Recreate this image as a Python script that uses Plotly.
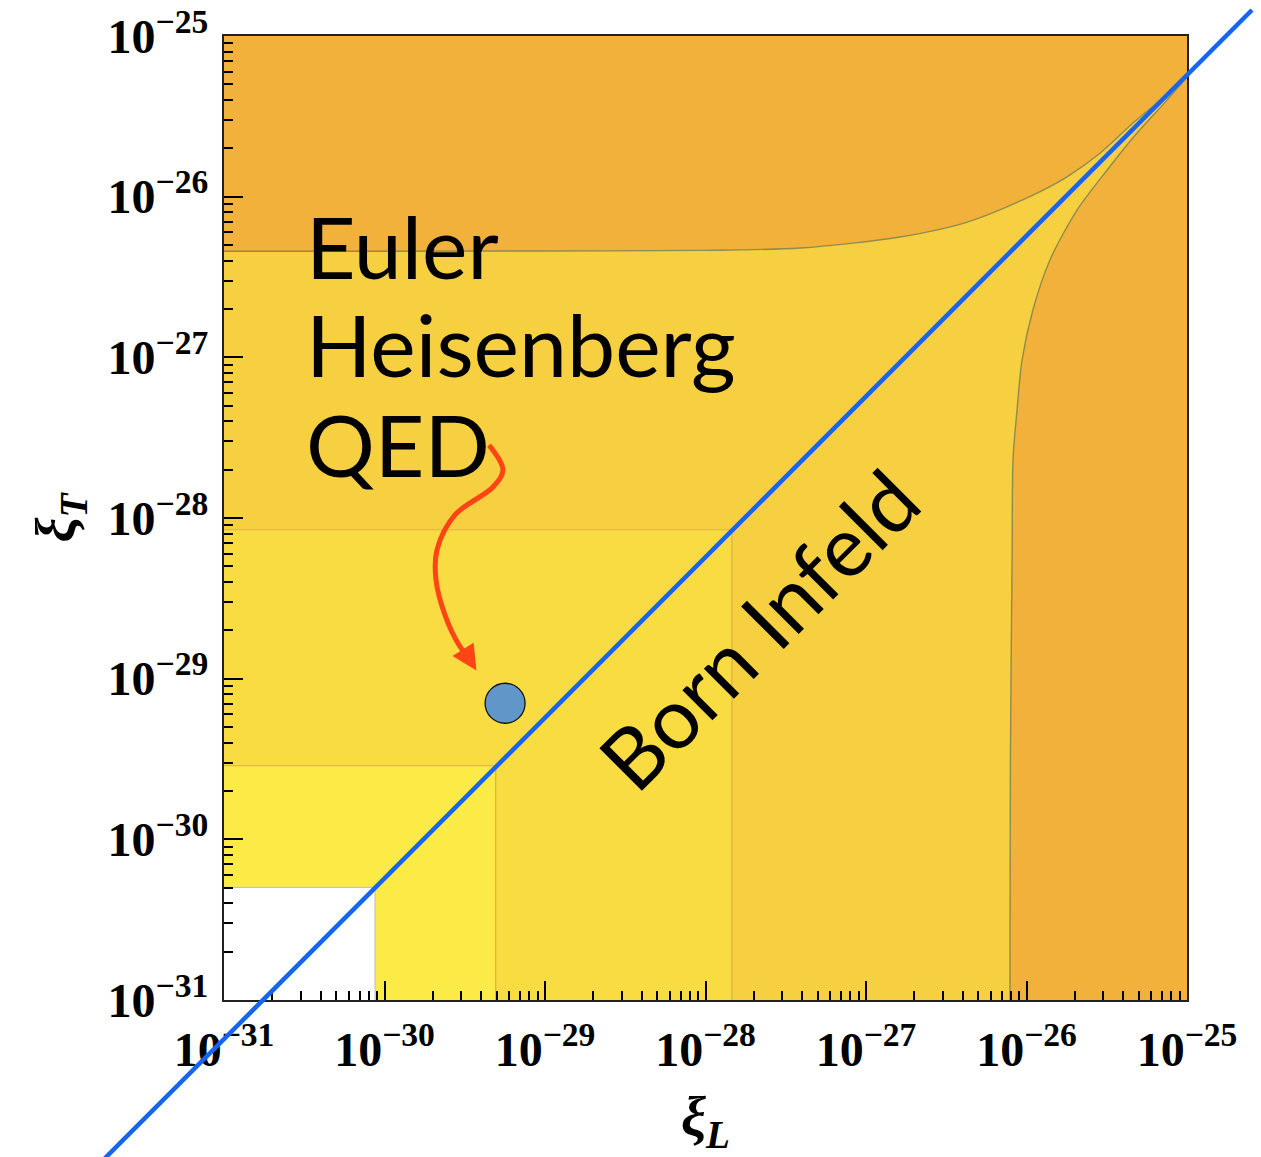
import numpy as np
import plotly.graph_objects as go

# ---------------- data ----------------
DECADES = [-31, -30, -29, -28, -27, -26, -25]
TICK_VALUES = [10.0 ** d for d in DECADES]
TICK_LABELS = [f"<b>10<sup>\u2212{abs(d)}</sup></b>" for d in DECADES]
MINOR_TICKS = [k * 10.0 ** d for d in DECADES[:-1] for k in range(2, 10)]

# nested rectangular bounds (xi_L max, xi_T max)
WHITE_BOX = (8.73e-31, 5.02e-31)
BRIGHT_BOX = (4.93e-30, 2.87e-30)
MID_BOX = (1.46e-28, 8.45e-29)

# curved outer bound: upper branch (left -> cusp)
UPPER_L = [1e-31, 1e-29, 9.33e-29, 3.89e-28, 1.622e-27, 4.27e-27, 1.096e-26,
           1.778e-26, 2.884e-26, 4.61e-26, 7.50e-26, 1e-25]
UPPER_T = [4.57e-27, 4.59e-27, 4.63e-27, 4.79e-27, 5.61e-27, 6.95e-27, 1.023e-26,
           1.324e-26, 1.871e-26, 2.871e-26, 4.30e-26, 5.56e-26]
# curved outer bound: right branch (bottom -> cusp)
RIGHT_L = [7.89e-27, 7.94e-27, 8.13e-27, 8.24e-27, 8.73e-27, 9.38e-27, 1.096e-26,
           1.40e-26, 2.065e-26, 3.18e-26, 4.88e-26, 7.50e-26, 1e-25]
RIGHT_T = [1e-31, 3.16e-30, 5.50e-29, 2.30e-28, 4.70e-28, 9.62e-28, 1.972e-27,
           4.04e-27, 8.26e-27, 1.466e-26, 2.49e-26, 3.99e-26, 5.56e-26]

# Born-Infeld relation xi_T = (4/7) xi_L
BI_RATIO = 4.0 / 7.0
BI_L = [1e-33, 2.54e-25]

# Euler-Heisenberg QED point
QED_L = [5.64e-30]
QED_T = [7.03e-30]

# pointer path (log10 xi_L, log10 xi_T)
ARROW_LOGL = [-29.349, -29.262, -29.324, -29.561, -29.673, -29.679, -29.623, -29.53, -29.49]
ARROW_LOGT = [-27.546, -27.701, -27.807, -27.981, -28.199, -28.386, -28.604, -28.80, -28.85]
ARROW_TIP = (-29.427, -28.949)

# ---------------- colours ----------------
ORANGE = "#F2B13B"
GOLD = "#F6D040"
YELLOW = "#F9DC42"
LEMON = "#FCEB46"
BLUE = "#1565F2"
RED = "#FF4515"

W, H = 1261, 1157
XD = [224 / W, 1187 / W]
YD = [1 - 1000 / H, 1 - 36 / H]
LO, HI = -31, -25
FAR = 1e-33


def outer_range(dom):
    span = (HI - LO) / (dom[1] - dom[0])
    return [LO - dom[0] * span, HI + (1 - dom[1]) * span]


fig = go.Figure()


def box(xmax, ymax, fill, edge):
    fig.add_trace(go.Scatter(
        x=[FAR, xmax, xmax, FAR, FAR], y=[FAR, FAR, ymax, ymax, FAR],
        mode="lines", fill="toself", fillcolor=fill,
        line=dict(color=edge, width=1.2), hoverinfo="skip", showlegend=False))


# excluded background
box(1e-24, 1e-24, ORANGE, ORANGE)

# allowed region bounded by the two curved branches
poly_x = [FAR, FAR] + UPPER_L + RIGHT_L[::-1][1:] + [RIGHT_L[0], FAR]
poly_y = [FAR, UPPER_T[0]] + UPPER_T + RIGHT_T[::-1][1:] + [FAR, FAR]
fig.add_trace(go.Scatter(
    x=poly_x, y=poly_y, mode="lines", fill="toself", fillcolor=GOLD,
    line=dict(color="rgba(125,130,80,0.85)", width=1.4, shape="spline", smoothing=0.8),
    hoverinfo="skip", showlegend=False))

box(MID_BOX[0], MID_BOX[1], YELLOW, "rgba(215,170,70,0.8)")
box(BRIGHT_BOX[0], BRIGHT_BOX[1], LEMON, "rgba(215,160,70,0.8)")
box(WHITE_BOX[0], WHITE_BOX[1], "white", "rgba(195,195,195,1)")

# pointer curve
fig.add_trace(go.Scatter(
    x=[10 ** v for v in ARROW_LOGL], y=[10 ** v for v in ARROW_LOGT],
    mode="lines", line=dict(color=RED, width=5, shape="spline", smoothing=1.0),
    hoverinfo="skip", showlegend=False))

# QED point
fig.add_trace(go.Scatter(
    x=QED_L, y=QED_T, mode="markers",
    marker=dict(size=40, color="#6096C8", line=dict(color="#111", width=1.3)),
    hoverinfo="skip", showlegend=False))

# Born-Infeld line on a full-page overlay of the same log scales
fig.add_trace(go.Scatter(
    x=BI_L, y=[BI_RATIO * v for v in BI_L], xaxis="x2", yaxis="y2",
    mode="lines", line=dict(color=BLUE, width=4.5),
    hoverinfo="skip", showlegend=False))

tickfont = dict(family="Liberation Serif", size=48, color="black")
axis_common = dict(
    type="log", range=[LO, HI], tickmode="array", tickvals=TICK_VALUES,
    ticktext=TICK_LABELS, tickfont=tickfont, ticks="inside", ticklen=19,
    tickwidth=2, tickcolor="black", showline=True, linecolor="#222",
    linewidth=2.2, mirror=True, showgrid=False, zeroline=False, automargin=False,
    minor=dict(tickmode="array", tickvals=MINOR_TICKS, ticks="inside",
               ticklen=9, tickwidth=1.8, tickcolor="black", showgrid=False),
)

title_font = dict(family="Liberation Serif", size=56, color="black")
fig.update_layout(
    width=W, height=H,
    margin=dict(l=0, r=0, t=0, b=0, autoexpand=False),
    paper_bgcolor="white", plot_bgcolor="rgba(0,0,0,0)",
    xaxis=dict(axis_common, domain=XD, anchor="y",
               title=dict(text="<b><i>\u03be<sub>L</sub></i></b>", font=title_font, standoff=22),
               ticklabelstandoff=6),
    yaxis=dict(axis_common, domain=YD, anchor="x",
               title=dict(text="<b><i>\u03be<sub>T</sub></i></b>", font=title_font, standoff=14),
               ticklabelstandoff=4),
    xaxis2=dict(type="log", range=outer_range(XD), domain=[0, 1], anchor="y2",
                visible=False, fixedrange=True, automargin=False),
    yaxis2=dict(type="log", range=outer_range(YD), domain=[0, 1], anchor="x2",
                visible=False, fixedrange=True, automargin=False),
)

label_font = dict(family="Lato", size=86, color="black")
for text, ly in [("Euler", -26.305), ("Heisenberg", -26.915), ("QED", -27.535)]:
    fig.add_annotation(x=-30.50, y=ly, xref="x", yref="y", text=text,
                       showarrow=False, xanchor="left", yanchor="middle", font=label_font)

fig.add_annotation(x=-27.67, y=-28.69, xref="x", yref="y", text="Born Infeld",
                   showarrow=False, textangle=-45, xanchor="center", yanchor="middle",
                   font=dict(family="Lato", size=84, color="black"))

# arrow head at the end of the pointer
fig.add_annotation(x=ARROW_TIP[0], y=ARROW_TIP[1], xref="x", yref="y",
                   ax=ARROW_LOGL[-1], ay=ARROW_LOGT[-1], axref="x", ayref="y",
                   text="", showarrow=True, arrowhead=2, arrowsize=1.0,
                   arrowwidth=5, arrowcolor=RED, standoff=0)

fig.write_html("out.html")
